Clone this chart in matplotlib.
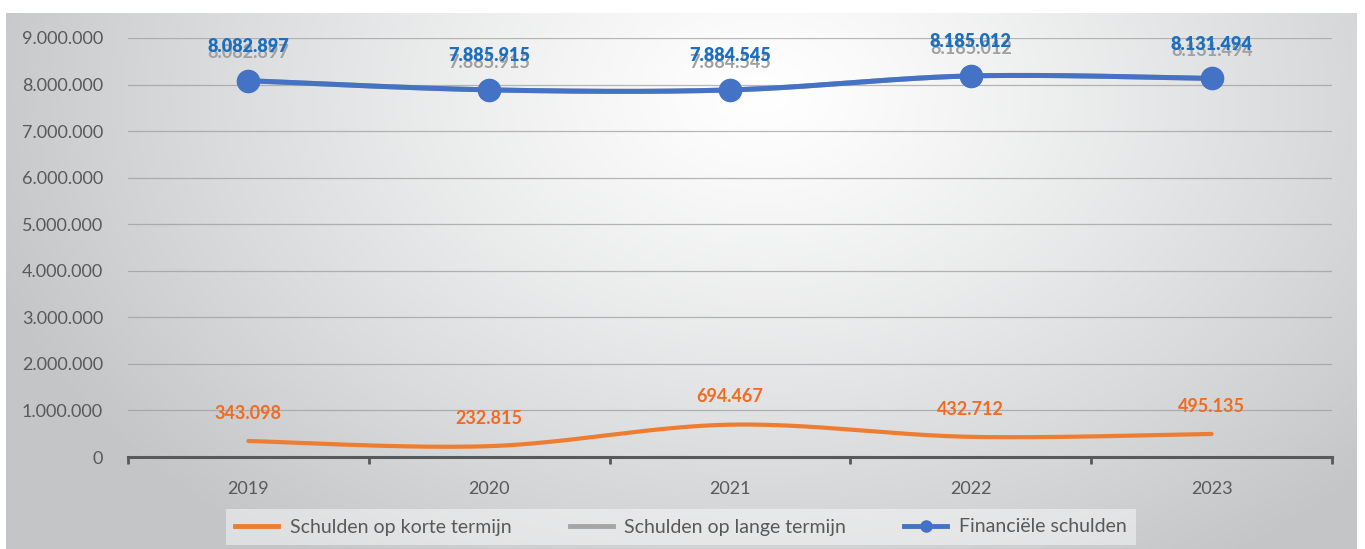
import numpy as np
import matplotlib
matplotlib.use("Agg")
import matplotlib.pyplot as plt
from matplotlib.ticker import FuncFormatter
from matplotlib.lines import Line2D

plt.rcParams["font.family"] = ["Lato", "DejaVu Sans"]

# data
years = ["2019", "2020", "2021", "2022", "2023"]
korte = [343098, 232815, 694467, 432712, 495135]
lange = [8082897, 7885915, 7884545, 8185012, 8131494]
financieel = [8082897, 7885915, 7884545, 8185012, 8131494]

ORANGE = "#ED7D31"
GRAY = "#A5A5A5"
BLUE = "#4472C4"
TXT = "#595959"


def dotted(v):
    return f"{int(round(v)):,}".replace(",", ".")


def smooth(xs, ys, n=40):
    # excel-like smoothed line (catmull-rom)
    xs = np.asarray(xs, float)
    ys = np.asarray(ys, float)
    px, py = [], []
    k = len(xs)
    for i in range(k - 1):
        x0, x1 = xs[i], xs[i + 1]
        y0, y1 = ys[i], ys[i + 1]
        xa = xs[i - 1] if i > 0 else x0
        ya = ys[i - 1] if i > 0 else y0
        xb = xs[i + 2] if i + 2 < k else x1
        yb = ys[i + 2] if i + 2 < k else y1
        mx0, my0 = (x1 - xa) / 2, (y1 - ya) / 2
        mx1, my1 = (xb - x0) / 2, (yb - y0) / 2
        t = np.linspace(0, 1, n)
        h00 = 2 * t**3 - 3 * t**2 + 1
        h10 = t**3 - 2 * t**2 + t
        h01 = -2 * t**3 + 3 * t**2
        h11 = t**3 - t**2
        px.extend(h00 * x0 + h10 * mx0 + h01 * x1 + h11 * mx1)
        py.extend(h00 * y0 + h10 * my0 + h01 * y1 + h11 * my1)
    return np.array(px), np.array(py)


fig = plt.figure(figsize=(13.65, 5.49), dpi=100)

# chart area background with radial gradient
bg = fig.add_axes([6 / 1365, 0, 1351 / 1365, 536 / 549], zorder=0)
gx, gy = np.meshgrid(np.linspace(0, 1, 600), np.linspace(0, 1, 300))
r = np.sqrt(((gx - 0.56) / 0.6) ** 2 + ((gy - 0.85) / 1.05) ** 2)
r = np.clip(r, 0, 1) ** 1.2
c0 = np.array([1.0, 1.0, 1.0])
c1 = np.array([0.77, 0.776, 0.784])
img = c0[None, None, :] * (1 - r[..., None]) + c1[None, None, :] * r[..., None]
bg.imshow(img, origin="lower", extent=[0, 1, 0, 1], aspect="auto")
bg.axis("off")

ax = fig.add_axes([128 / 1365, 1 - 457 / 549, 1204 / 1365, (457 - 38) / 549], zorder=1)
ax.patch.set_alpha(0)

x = np.arange(len(years))

sx, sy = smooth(x, korte)
ax.plot(sx, sy, color=ORANGE, lw=3, solid_capstyle="round", zorder=3)
sx, sy = smooth(x, lange)
ax.plot(sx, sy, color=GRAY, lw=3.6, solid_capstyle="round", zorder=3)
sx, sy = smooth(x, financieel)
ax.plot(sx, sy, color=BLUE, lw=3.6, solid_capstyle="round", zorder=4)
ax.plot(x, financieel, "o", color=BLUE, ms=16, zorder=5)

for i in range(len(years)):
    ax.annotate(dotted(lange[i]), (x[i], lange[i]), xytext=(0, 20), textcoords="offset points",
                ha="center", va="center", color="#A0A0A0", fontsize=13, fontweight="bold", zorder=6)
    ax.annotate(dotted(financieel[i]), (x[i], financieel[i]), xytext=(0, 24.5), textcoords="offset points",
                ha="center", va="center", color="#1C6FC0", fontsize=13, fontweight="heavy", zorder=7)
    ax.annotate(dotted(korte[i]), (x[i], korte[i]), xytext=(0, 20), textcoords="offset points",
                ha="center", va="center", color="#F26B21", fontsize=13, fontweight="bold", zorder=6)

ax.set_xlim(-0.5, len(years) - 0.5)
ax.set_ylim(0, 9000000)
ax.set_yticks(np.arange(0, 9000001, 1000000))
ax.yaxis.set_major_formatter(FuncFormatter(lambda v, p: dotted(v)))
ax.grid(axis="y", color="#9a9a9a", lw=0.9, alpha=0.7, zorder=1)
ax.set_axisbelow(True)

ax.set_xticks(x)
ax.set_xticklabels(years)
ax.set_xticks(np.arange(-0.5, len(years), 1), minor=True)
ax.tick_params(axis="x", which="major", length=0, pad=17, labelsize=13, labelcolor=TXT)
ax.tick_params(axis="x", which="minor", length=5, width=2, color=TXT, direction="out")
ax.tick_params(axis="y", length=0, pad=18, labelsize=13, labelcolor=TXT)

for s in ["top", "right", "left"]:
    ax.spines[s].set_visible(False)
ax.spines["bottom"].set_color(TXT)
ax.spines["bottom"].set_linewidth(2.2)
ax.spines["bottom"].set_zorder(2)

handles = [
    Line2D([], [], color=ORANGE, lw=3.5),
    Line2D([], [], color=GRAY, lw=3.5),
    Line2D([], [], color=BLUE, lw=3.5, marker="o", ms=8),
]
leg = fig.legend(handles, ["Schulden op korte termijn", "Schulden op lange termijn", "Financiële schulden"],
                 loc="center", bbox_to_anchor=(681 / 1365, 1 - 527 / 549), ncol=3, frameon=True,
                 fontsize=14, handlelength=2.2, columnspacing=3.0, borderpad=0.5, handletextpad=0.6,
                 fancybox=False)
leg.get_frame().set_facecolor("white")
leg.get_frame().set_alpha(0.45)
leg.get_frame().set_edgecolor("none")
for t in leg.get_texts():
    t.set_color(TXT)

fig.savefig("out.png", dpi=100)
